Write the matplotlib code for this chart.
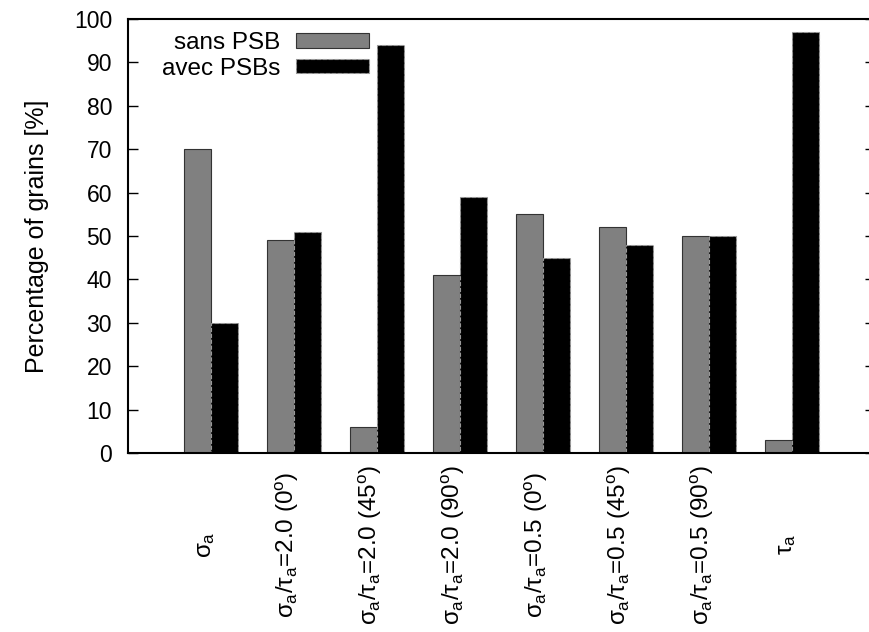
import matplotlib.pyplot as plt
from matplotlib.patches import Patch

plt.rcParams['font.family'] = ['Liberation Sans', 'DejaVu Sans']
plt.rcParams['mathtext.fontset'] = 'custom'
plt.rcParams['mathtext.rm'] = 'Liberation Sans'
plt.rcParams['mathtext.it'] = 'Liberation Sans'

# Data
categories = [r'$\sigma_a$',
              r'$\sigma_a/\tau_a$=2.0 (0$^o$)',
              r'$\sigma_a/\tau_a$=2.0 (45$^o$)',
              r'$\sigma_a/\tau_a$=2.0 (90$^o$)',
              r'$\sigma_a/\tau_a$=0.5 (0$^o$)',
              r'$\sigma_a/\tau_a$=0.5 (45$^o$)',
              r'$\sigma_a/\tau_a$=0.5 (90$^o$)',
              r'$\tau_a$']
sans_psb = [70, 49, 6, 41, 55, 52, 50, 3]
avec_psb = [30, 51, 94, 59, 45, 48, 50, 97]

fig = plt.figure(figsize=(8.69, 6.32), dpi=100)
# axes runs a little past the right edge, like the cropped original
ax = fig.add_axes([128 / 869, (632 - 453) / 632, (875 - 128) / 869, (453 - 19) / 632])

x = list(range(len(categories)))
w = 0.33
ax.bar(x, sans_psb, width=-w, align='edge', color='#808080',
       edgecolor='#333333', linewidth=0.8)
ax.bar(x, avec_psb, width=w, align='edge', color='black',
       edgecolor='#999999', linewidth=0.8, linestyle='--')

ax.set_xlim(-1, 8)
ax.set_ylim(0, 100)
ax.set_yticks(range(0, 101, 10))
ax.tick_params(axis='y', direction='in', length=7, width=1, right=True,
               labelsize=16.5, pad=11.5)
ax.set_ylabel('Percentage of grains [%]', fontsize=18, labelpad=18)

ax.set_xticks(x)
ax.set_xticklabels(categories, rotation=90, rotation_mode='anchor',
                   ha='center', va='baseline', fontsize=17.5)
ax.tick_params(axis='x', length=0, pad=66)

for s in ax.spines.values():
    s.set_linewidth(1.5)

handles = [Patch(facecolor='#808080', edgecolor='#333333', linewidth=0.8),
           Patch(facecolor='black', edgecolor='#999999', linewidth=0.8, linestyle='--')]
ax.legend(handles, ['sans PSB', 'avec PSBs'], loc='upper right',
          bbox_to_anchor=(369 / 869, 1 - 32 / 632), bbox_transform=fig.transFigure,
          frameon=False, markerfirst=False, fontsize=17.5,
          handlelength=3.0, handleheight=0.54, labelspacing=0.15,
          handletextpad=0.66, borderpad=0, borderaxespad=0)

plt.savefig('out.png', dpi=100)
